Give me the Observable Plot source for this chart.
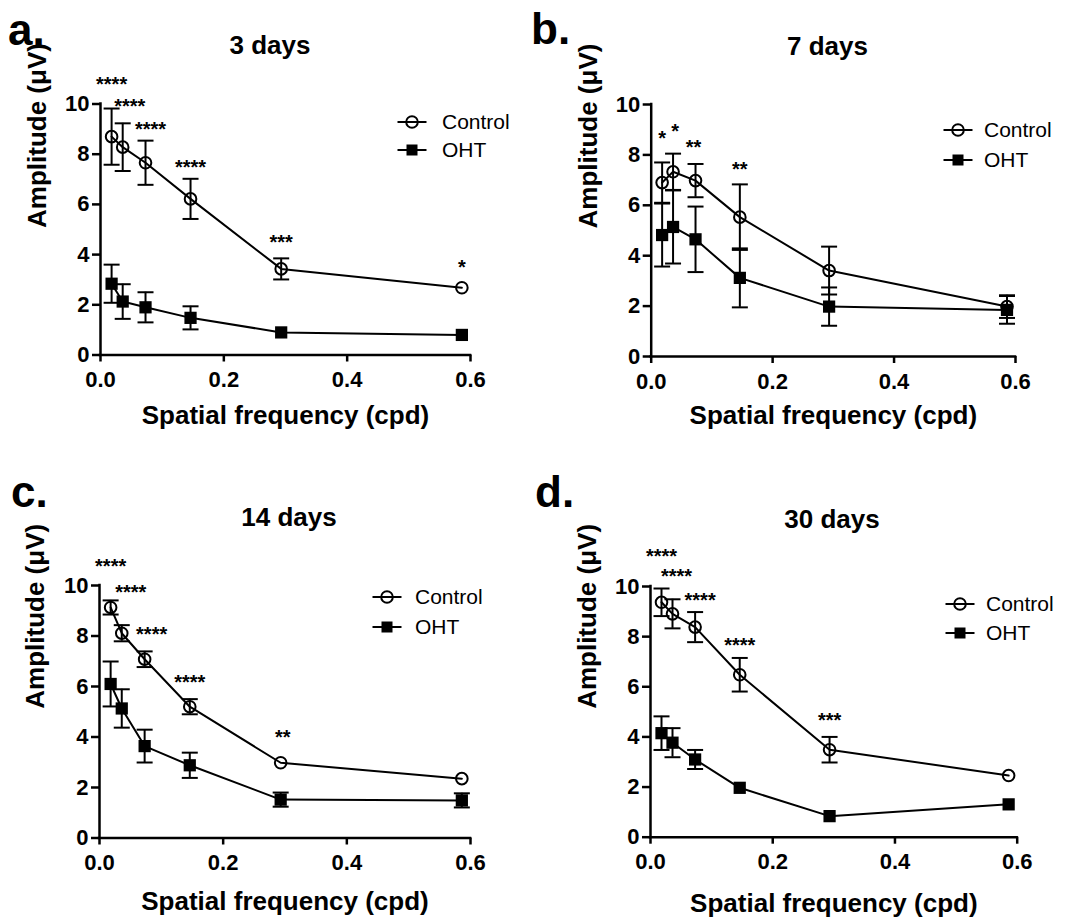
<!DOCTYPE html>
<html>
<head>
<meta charset="utf-8">
<script src="https://cdn.jsdelivr.net/npm/d3@7"></script>
<script src="https://cdn.jsdelivr.net/npm/@observablehq/plot@0.6"></script>
<style>
  html, body { margin: 0; padding: 0; background: #fff; }
  #wrap { position: relative; width: 1069px; height: 917px; overflow: hidden; background: #fff; }
  .panel { position: absolute; }
  #overlay { position: absolute; left: 0; top: 0; pointer-events: none; }
</style>
</head>
<body>
<div id="wrap"></div>
<script>
// ---------- data ----------
const freq = [0.018, 0.036, 0.073, 0.146, 0.293, 0.586];
const seriesNames = ["Control", "OHT"];
const xTicks = [0, 0.2, 0.4, 0.6];
const yTicks = [0, 2, 4, 6, 8, 10];
const panelTitles = ["3 days", "7 days", "14 days", "30 days"];
const panelLetters = ["a.", "b.", "c.", "d."];
const xLabel = "Spatial frequency (cpd)";
const yLabel = "Amplitude (μV)";

const control3 = [8.70, 8.28, 7.66, 6.22, 3.43, 2.68];
const control3Err = [1.12, 0.95, 0.88, 0.80, 0.42, 0];
const oht3 = [2.84, 2.13, 1.90, 1.48, 0.90, 0.80];
const oht3Err = [0.76, 0.69, 0.60, 0.46, 0, 0];
const stars3 = ["****", "****", "****", "****", "***", "*"];
const stars3Y = [10.97, 10.11, 9.18, 7.67, 4.68, 3.69];

const control7 = [6.90, 7.33, 6.98, 5.53, 3.41, 1.98];
const control7Err = [0.80, 0.72, 0.66, 1.30, 0.95, 0.45];
const oht7 = [4.82, 5.14, 4.65, 3.12, 1.98, 1.85];
const oht7Err = [1.25, 1.45, 1.30, 1.17, 0.76, 0.55];
const stars7 = ["*", "*", "**", "**", "", ""];
const stars7Y = [8.85, 9.13, 8.49, 7.62, 0, 0];

const control14 = [9.13, 8.11, 7.08, 5.20, 2.98, 2.35];
const control14Err = [0.28, 0.32, 0.31, 0.30, 0, 0];
const oht14 = [6.10, 5.13, 3.64, 2.88, 1.52, 1.49];
const oht14Err = [0.89, 0.76, 0.65, 0.50, 0.28, 0.28];
const stars14 = ["****", "****", "****", "****", "**", ""];
const stars14Y = [10.95, 9.90, 8.27, 6.37, 4.18, 0];

const control30 = [9.37, 8.91, 8.38, 6.48, 3.49, 2.46];
const control30Err = [0.55, 0.58, 0.60, 0.67, 0.51, 0];
const oht30 = [4.15, 3.77, 3.10, 1.97, 0.84, 1.31];
const oht30Err = [0.67, 0.58, 0.38, 0, 0, 0];
const stars30 = ["****", "****", "****", "****", "***", ""];
const stars30Y = [11.40, 10.61, 9.64, 7.85, 4.85, 0];

// ---------- layout / style ----------
const FONT = "'Liberation Sans', Arial, Helvetica, sans-serif";
const panels = [
  {control: control3, controlErr: control3Err, oht: oht3, ohtErr: oht3Err, stars: stars3, starsY: stars3Y,
   left: 0, top: 0, width: 530, height: 460, mL: 100, mR: 60, mT: 103.5, mB: 105.5,
   xlabDy: 50.5, ylabDx: -73, ylabDy: -1.5, starDx: [0, 7, 5, 0, 0, 0],
   title: [270, 54], letter: [8, 44.5], legend: [412, 122, 150, 442]},
  {control: control7, controlErr: control7Err, oht: oht7, ohtErr: oht7Err, stars: stars7, starsY: stars7Y,
   left: 530, top: 0, width: 539, height: 460, mL: 120.7, mR: 54, mT: 104, mB: 104,
   xlabDy: 49, ylabDx: -72.7, ylabDy: -2, starDx: [0, 2, -2, 0, 0, 0],
   title: [827.5, 54.5], letter: [531, 44], legend: [958, 130, 160, 984]},
  {control: control14, controlErr: control14Err, oht: oht14, ohtErr: oht14Err, stars: stars14, starsY: stars14Y,
   left: 0, top: 460, width: 530, height: 457, mL: 99, mR: 60, mT: 125, mB: 79.5,
   xlabDy: 53.8, ylabDx: -74, ylabDy: -3, starDx: [0, 9, 7, 0, 2, 0],
   title: [289, 525.5], letter: [11, 506.7], legend: [387, 597, 627, 415]},
  {control: control30, controlErr: control30Err, oht: oht30, ohtErr: oht30Err, stars: stars30, starsY: stars30Y,
   left: 530, top: 460, width: 539, height: 457, mL: 120, mR: 52.3, mT: 126, mB: 80.3,
   xlabDy: 56, ylabDx: -73, ylabDy: -3, starDx: [0, 4, 5, 0, 0, 0],
   title: [832, 528], letter: [535, 506.7], legend: [960, 604, 633, 986]}
];

const CAP_HALF = 8;
const capSymbol = { draw(ctx) { ctx.moveTo(-CAP_HALF, 0); ctx.lineTo(CAP_HALF, 0); } };
const CIRCLE_R = 5.8, SQUARE_R = 6.9;

const wrap = document.getElementById("wrap");

panels.forEach((p, pi) => {
  const rows = [];
  freq.forEach((f, i) => {
    rows.push({x: f, y: p.control[i], err: p.controlErr[i], series: seriesNames[0]});
    rows.push({x: f, y: p.oht[i], err: p.ohtErr[i], series: seriesNames[1]});
  });
  const errRows = rows.filter(d => d.err > 0);
  const ctrlRows = rows.filter(d => d.series === seriesNames[0]);
  const ohtRows = rows.filter(d => d.series === seriesNames[1]);
  const starRows = p.stars.map((s, i) => ({x: freq[i], y: p.starsY[i], label: s, dx: p.starDx[i]})).filter(d => d.label);

  const plot = Plot.plot({
    width: p.width, height: p.height,
    marginLeft: p.mL, marginRight: p.mR, marginTop: p.mT, marginBottom: p.mB,
    x: {domain: [0, 0.6], label: null},
    y: {domain: [0, 10], label: null},
    style: {fontFamily: FONT, color: "black", background: "transparent", overflow: "visible"},
    marks: [
      Plot.ruleX(errRows, {x: "x", y1: d => d.y - d.err, y2: d => d.y + d.err, stroke: "black", strokeWidth: 2}),
      Plot.dot(errRows, {x: "x", y: d => d.y + d.err, symbol: capSymbol, r: 1, fill: "none", stroke: "black", strokeWidth: 2}),
      Plot.dot(errRows, {x: "x", y: d => d.y - d.err, symbol: capSymbol, r: 1, fill: "none", stroke: "black", strokeWidth: 2}),
      Plot.line(rows, {x: "x", y: "y", z: "series", stroke: "black", strokeWidth: 2}),
      Plot.dot(ctrlRows, {x: "x", y: "y", symbol: "circle", r: CIRCLE_R, fill: "none", stroke: "black", strokeWidth: 2}),
      Plot.dot(ohtRows, {x: "x", y: "y", symbol: "square", r: SQUARE_R, fill: "black", stroke: "none"}),
      ...starRows.map(d => Plot.text([d], {x: "x", y: "y", text: "label", dx: d.dx, dy: 5,
        fontSize: 20, fontWeight: "bold", fill: "black", textAnchor: "middle", lineAnchor: "middle"})),
      Plot.ruleX([0], {stroke: "black", strokeWidth: 2.5, strokeLinecap: "square"}),
      Plot.ruleY([0], {stroke: "black", strokeWidth: 2.5, strokeLinecap: "square"}),
      Plot.axisX({ticks: xTicks, tickFormat: d3.format(".1f"), tickSize: 7, tickPadding: 9.5,
        fontSize: 22, fontWeight: "bold", strokeWidth: 2.5, label: null, fill: "black"}),
      Plot.axisY({ticks: yTicks, tickFormat: d3.format("d"), tickSize: 8, tickPadding: 3,
        fontSize: 22, fontWeight: "bold", strokeWidth: 2.5, label: null, fill: "black"}),
      Plot.text([xLabel], {frameAnchor: "bottom", lineAnchor: "top", dy: p.xlabDy, fontSize: 26, fontWeight: "bold", fill: "black"}),
      Plot.text([yLabel], {frameAnchor: "left", lineAnchor: "top", rotate: -90, dx: p.ylabDx, dy: p.ylabDy, fontSize: 26, fontWeight: "bold", fill: "black"})
    ]
  });
  const div = document.createElement("div");
  div.className = "panel";
  div.style.left = p.left + "px";
  div.style.top = p.top + "px";
  div.appendChild(plot);
  wrap.appendChild(div);
});

// ---------- titles, panel letters, legends ----------
const ov = d3.select(wrap).append("svg").attr("id", "overlay")
  .attr("width", 1069).attr("height", 917)
  .style("font-family", FONT);
panels.forEach((p, pi) => {
  ov.append("text").attr("x", p.title[0]).attr("y", p.title[1])
    .attr("text-anchor", "middle").attr("font-size", 26).attr("font-weight", "bold")
    .attr("fill", "black").text(panelTitles[pi]);
  ov.append("text").attr("x", p.letter[0]).attr("y", p.letter[1])
    .attr("font-size", 44).attr("font-weight", "bold").attr("fill", "black").text(panelLetters[pi]);
  const [cx, y1, y2, tx] = p.legend;
  [y1, y2].forEach((yy, si) => {
    ov.append("line").attr("x1", cx - 14.5).attr("x2", cx + 14.5).attr("y1", yy).attr("y2", yy)
      .attr("stroke", "black").attr("stroke-width", 2);
    if (si === 0) {
      ov.append("circle").attr("cx", cx).attr("cy", yy).attr("r", CIRCLE_R)
        .attr("fill", "none").attr("stroke", "black").attr("stroke-width", 2);
    } else {
      ov.append("rect").attr("x", cx - 5.5).attr("y", yy - 5.5).attr("width", 11).attr("height", 11)
        .attr("fill", "black");
    }
    ov.append("text").attr("x", tx).attr("y", yy + 7.3).attr("font-size", 21)
      .attr("fill", "black").text(seriesNames[si]);
  });
});
</script>
</body>
</html>
